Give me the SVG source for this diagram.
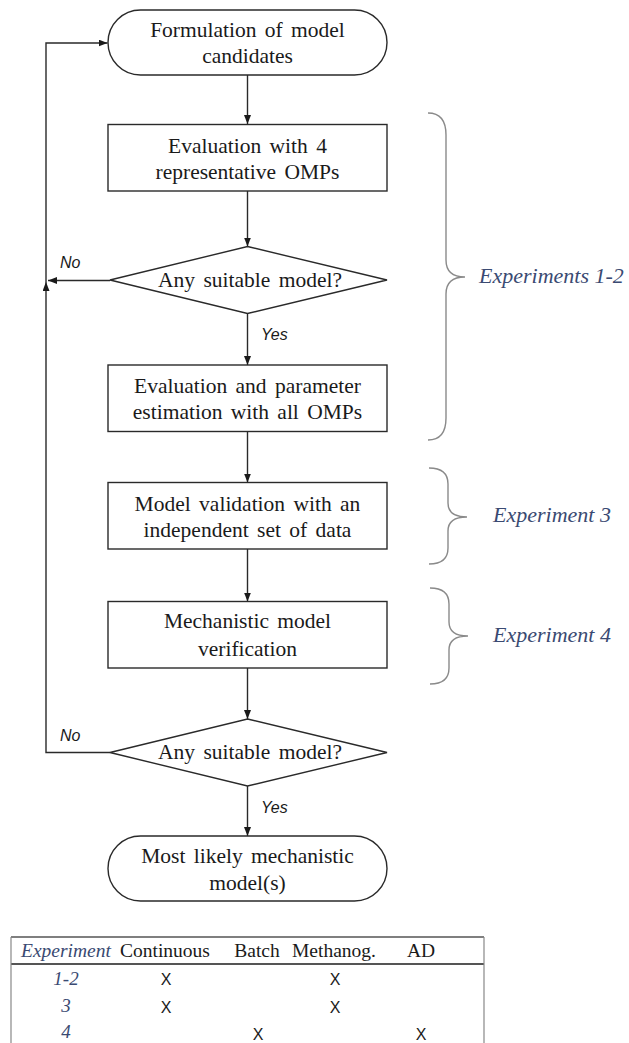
<svg xmlns="http://www.w3.org/2000/svg" width="629" height="1043" viewBox="0 0 629 1043">
<style>
.node{fill:#fff;stroke:#2a2a2a;stroke-width:1.4}
.t{font-family:"Liberation Serif","Times New Roman",serif;font-size:21.5px;fill:#1a1a1a;text-anchor:middle;word-spacing:3px}
.lbl{font-family:"Liberation Sans",Arial,sans-serif;font-style:italic;font-size:16px;fill:#1a1a1a}
.conn{fill:none;stroke:#2a2a2a;stroke-width:1.4}
.brace{fill:none;stroke:#8a8a8a;stroke-width:1.4}
.exp{font-family:"Liberation Serif","Times New Roman",serif;font-style:italic;font-size:22px;fill:#3a4a72}
.th{font-family:"Liberation Serif","Times New Roman",serif;font-size:19.5px;fill:#1a1a1a;text-anchor:middle}
.ti{font-family:"Liberation Serif","Times New Roman",serif;font-style:italic;font-size:19px;fill:#3a4a72;text-anchor:middle}
.x{font-family:"Liberation Sans",Arial,sans-serif;font-size:16px;fill:#1a1a1a;text-anchor:middle}
.tl{stroke:#888;stroke-width:1.2;fill:none}
</style>
<defs>
<marker id="arr" markerUnits="userSpaceOnUse" markerWidth="10" markerHeight="8" refX="9" refY="3.5" orient="auto">
<path d="M0,0 L9,3.5 L0,7 z" fill="#1a1a1a"/>
</marker>
</defs>
<g id="connectors">
<line class="conn" x1="247.5" y1="75" x2="247.5" y2="124" marker-end="url(#arr)"/>
<line class="conn" x1="247.5" y1="191" x2="247.5" y2="246.5" marker-end="url(#arr)"/>
<line class="conn" x1="247.5" y1="313.5" x2="247.5" y2="365" marker-end="url(#arr)"/>
<line class="conn" x1="247.5" y1="431.5" x2="247.5" y2="482.5" marker-end="url(#arr)"/>
<line class="conn" x1="247.5" y1="549" x2="247.5" y2="601.5" marker-end="url(#arr)"/>
<line class="conn" x1="247.5" y1="668" x2="247.5" y2="719" marker-end="url(#arr)"/>
<line class="conn" x1="247.5" y1="786" x2="247.5" y2="836" marker-end="url(#arr)"/>
<line class="conn" x1="110" y1="280.5" x2="48" y2="280.5" marker-end="url(#arr)"/>
<path class="conn" d="M110,752.5 H46 V282" marker-end="url(#arr)"/>
<path class="conn" d="M46,282 V43 H107.5" marker-end="url(#arr)"/>
<text class="lbl" x="60" y="268">No</text>
<text class="lbl" x="60" y="741">No</text>
<text class="lbl" x="261" y="340">Yes</text>
<text class="lbl" x="261" y="813">Yes</text>
</g>
<g id="start">
<rect class="node" x="108" y="10" width="279" height="65" rx="32.5" ry="32.5"/>
<text class="t" x="247.5" y="37">Formulation of model</text>
<text class="t" x="247.5" y="63">candidates</text>
</g>
<g id="eval4">
<rect class="node" x="108" y="124.5" width="279" height="66.5"/>
<text class="t" x="247.5" y="152.5">Evaluation with 4</text>
<text class="t" x="247.5" y="179">representative OMPs</text>
</g>
<g id="decision1">
<polygon class="node" points="247.5,246.5 387,280 247.5,313.5 110,280"/>
<text class="t" x="250" y="287">Any suitable model?</text>
</g>
<g id="evalAll">
<rect class="node" x="108" y="365" width="279" height="66.5"/>
<text class="t" x="247.5" y="393">Evaluation and parameter</text>
<text class="t" x="247.5" y="419">estimation with all OMPs</text>
</g>
<g id="validation">
<rect class="node" x="108" y="482.5" width="279" height="66.5"/>
<text class="t" x="247.5" y="510.5">Model validation with an</text>
<text class="t" x="247.5" y="536.5">independent set of data</text>
</g>
<g id="verification">
<rect class="node" x="108" y="601.5" width="279" height="66.5"/>
<text class="t" x="247.5" y="628">Mechanistic model</text>
<text class="t" x="247.5" y="655.5">verification</text>
</g>
<g id="decision2">
<polygon class="node" points="247.5,719 387,752.5 247.5,786 110,752.5"/>
<text class="t" x="250" y="759">Any suitable model?</text>
</g>
<g id="end">
<rect class="node" x="108" y="836" width="279" height="65" rx="32.5" ry="32.5"/>
<text class="t" x="247.5" y="862.5">Most likely mechanistic</text>
<text class="t" x="247.5" y="889.5">model(s)</text>
</g>
<g id="brace12">
<path class="brace" d="M428,113 Q446,113 446,135 L446,260 Q446,277 465,277 Q446,277 446,294 L446,418 Q446,440 428,440"/>
<text class="exp" x="479" y="283">Experiments 1-2</text>
</g>
<g id="brace3">
<path class="brace" d="M429,468 Q448,468 448,484 L448,503 Q448,517 467,517 Q448,517 448,531 L448,548 Q448,564 429,564"/>
<text class="exp" x="493" y="522">Experiment 3</text>
</g>
<g id="brace4">
<path class="brace" d="M430,588 Q449,588 449,604 L449,622 Q449,636 468,636 Q449,636 449,650 L449,668 Q449,684 430,684"/>
<text class="exp" x="493" y="642">Experiment 4</text>
</g>
<g id="table">
<line x1="11" y1="937" x2="484" y2="937" stroke="#555" stroke-width="1.3"/>
<line x1="11" y1="964" x2="484" y2="964" stroke="#555" stroke-width="2"/>
<line class="tl" x1="11" y1="937" x2="11" y2="1043"/>
<line class="tl" x1="484" y1="937" x2="484" y2="1043"/>
<text class="th" x="66" y="957" font-style="italic" style="fill:#3a4a72">Experiment</text>
<text class="th" x="165" y="957">Continuous</text>
<text class="th" x="257" y="957">Batch</text>
<text class="th" x="334" y="957">Methanog.</text>
<text class="th" x="421" y="957">AD</text>
<text class="ti" x="66" y="985">1-2</text>
<text class="ti" x="66" y="1012">3</text>
<text class="ti" x="66" y="1038">4</text>
<text class="x" x="166" y="985">X</text>
<text class="x" x="335" y="985">X</text>
<text class="x" x="166" y="1013">X</text>
<text class="x" x="335" y="1013">X</text>
<text class="x" x="258" y="1040">X</text>
<text class="x" x="421" y="1040">X</text>
</g>
</svg>
